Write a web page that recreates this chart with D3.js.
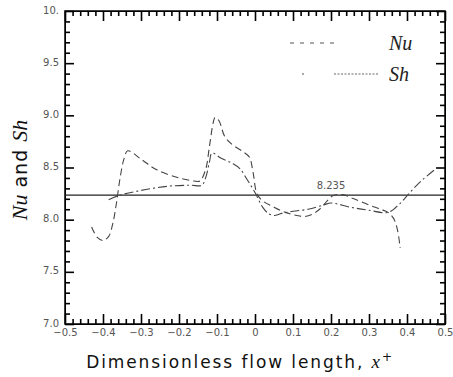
<!DOCTYPE html>
<html><head><meta charset="utf-8">
<script src="https://cdn.jsdelivr.net/npm/d3@7/dist/d3.min.js"></script>
<style>body{margin:0;background:#fff}svg{display:block}</style>
</head><body><svg id="c" width="453" height="377"></svg>
<script>
// Data
const nuX = [-0.43,-0.415,-0.40,-0.385,-0.375,-0.365,-0.355,-0.345,-0.335,-0.30,-0.26,-0.20,-0.16,-0.145,-0.13,-0.12,-0.11,-0.105,-0.095,-0.08,-0.06,-0.035,-0.015,-0.005,0.005,0.02,0.05,0.08,0.11,0.13,0.15,0.17,0.19,0.205,0.23,0.26,0.30,0.33,0.35,0.365,0.375,0.382];
const nuY = [7.93,7.83,7.80,7.84,7.95,8.15,8.40,8.58,8.66,8.58,8.48,8.40,8.37,8.37,8.48,8.70,8.93,8.98,8.95,8.80,8.72,8.66,8.60,8.45,8.25,8.18,8.12,8.07,8.04,8.03,8.05,8.10,8.18,8.23,8.24,8.20,8.14,8.10,8.07,8.01,7.90,7.73];
const shX = [-0.385,-0.36,-0.30,-0.23,-0.17,-0.14,-0.13,-0.12,-0.113,-0.09,-0.06,-0.04,-0.02,0.0,0.02,0.035,0.05,0.07,0.10,0.14,0.18,0.20,0.25,0.30,0.35,0.38,0.41,0.44,0.48];
const shY = [8.19,8.23,8.28,8.32,8.33,8.33,8.40,8.55,8.64,8.59,8.54,8.49,8.38,8.26,8.12,8.06,8.04,8.06,8.08,8.10,8.14,8.16,8.12,8.09,8.07,8.15,8.27,8.38,8.50];
const refValue = 8.235;
const refLabel = "8.235";
const xTicks = [-0.5,-0.4,-0.3,-0.2,-0.1,0,0.1,0.2,0.3,0.4,0.5];
const xTickLabels = ["\u22120.5","\u22120.4","\u22120.3","\u22120.2","\u22120.1","0","0.1","0.2","0.3","0.4","0.5"];
const yTicks = [7.0,7.5,8.0,8.5,9.0,9.5,10.0];
const yTickLabels = ["7.0","7.5","8.0","8.5","9.0","9.5","10."];
const xMinor = [-0.48,-0.46,-0.44,-0.42,-0.38,-0.36,-0.34,-0.32,-0.28,-0.26,-0.24,-0.22,-0.18,-0.16,-0.14,-0.12,-0.08,-0.06,-0.04,-0.02,0.02,0.04,0.06,0.08,0.12,0.14,0.16,0.18,0.22,0.24,0.26,0.28,0.32,0.34,0.36,0.38,0.42,0.44,0.46,0.48];
const yMinor = [7.1,7.2,7.3,7.4,7.6,7.7,7.8,7.9,8.1,8.2,8.3,8.4,8.6,8.7,8.8,8.9,9.1,9.2,9.3,9.4,9.6,9.7,9.8,9.9];

const svg = d3.select("#c");
const L=65,R=445,T=11,B=324;
const x = d3.scaleLinear().domain([-0.5,0.5]).range([L,R]);
const y = d3.scaleLinear().domain([7,10]).range([B,T]);

svg.append("rect").attr("x",L).attr("y",T).attr("width",R-L).attr("height",B-T)
  .attr("fill","none").attr("stroke","#111").attr("stroke-width",1.6);

const tickGroups = [
  [d3.axisBottom(x), xMinor, -5, `translate(0,${B})`],
  [d3.axisBottom(x), xTicks, -10, `translate(0,${B})`],
  [d3.axisTop(x), xMinor, -5, `translate(0,${T})`],
  [d3.axisTop(x), xTicks, -10, `translate(0,${T})`],
  [d3.axisLeft(y), yMinor, -5, `translate(${L},0)`],
  [d3.axisLeft(y), yTicks, -9, `translate(${L},0)`],
  [d3.axisRight(y), yMinor, -5, `translate(${R},0)`],
  [d3.axisRight(y), yTicks, -9, `translate(${R},0)`]
];
tickGroups.forEach(([ax, vals, size, tr])=>{
  const g = svg.append("g").attr("transform",tr)
    .call(ax.tickValues(vals).tickSizeInner(size).tickSizeOuter(0).tickFormat(""));
  g.selectAll(".tick line").attr("stroke","#000").attr("stroke-width",1.6).attr("stroke-opacity",1);
});

// tick labels via d3 axes
const xa = svg.append("g").attr("transform",`translate(0,${B})`)
  .call(d3.axisBottom(x).tickValues(xTicks).tickSize(0).tickPadding(5).tickFormat((d,i)=>xTickLabels[i]));
const ya = svg.append("g").attr("transform",`translate(${L},0)`)
  .call(d3.axisLeft(y).tickValues(yTicks).tickSize(0).tickPadding(6).tickFormat((d,i)=>yTickLabels[i]));
[xa,ya].forEach(a=>{a.selectAll("text").attr("fill","#555").style("font-family","'DejaVu Sans',sans-serif").style("font-size","10px");});
ya.selectAll("text").attr("dy","0.2em");

// reference line
svg.append("line").attr("x1",x(-0.5)).attr("x2",x(0.5)).attr("y1",y(refValue)).attr("y2",y(refValue))
  .attr("stroke","#222").attr("stroke-width",1.3);
svg.append("text").attr("x",x(0.2)).attr("y",y(refValue)-6).attr("text-anchor","middle")
  .attr("fill","#555").style("font-family","'DejaVu Sans',sans-serif").style("font-size","10px").text(refLabel);

const line = d3.line().x(d=>x(d[0])).y(d=>y(d[1])).curve(d3.curveCatmullRom.alpha(0.5));
svg.append("path").datum(nuX.map((v,i)=>[v,nuY[i]])).attr("d",line)
  .attr("fill","none").attr("stroke","#444").attr("stroke-width",1.1).attr("stroke-dasharray","7,4");
svg.append("path").datum(shX.map((v,i)=>[v,shY[i]])).attr("d",line)
  .attr("fill","none").attr("stroke","#444").attr("stroke-width",1.1).attr("stroke-dasharray","9,3,2,3");

// legend
svg.append("line").attr("x1",290).attr("x2",340).attr("y1",43).attr("y2",43)
  .attr("stroke","#555").attr("stroke-width",1).attr("stroke-dasharray","4,6");
svg.append("line").attr("x1",302).attr("x2",304).attr("y1",74).attr("y2",74)
  .attr("stroke","#555").attr("stroke-width",1);
svg.append("line").attr("x1",334).attr("x2",378).attr("y1",74).attr("y2",74)
  .attr("stroke","#666").attr("stroke-width",1).attr("stroke-dasharray","2,1.5");
const lf = "'Liberation Serif','DejaVu Serif',serif";
svg.append("text").attr("x",389).attr("y",50).style("font-family",lf).style("font-style","italic")
  .style("font-size","20px").attr("fill","#222").text("Nu");
svg.append("text").attr("x",389).attr("y",81).style("font-family",lf).style("font-style","italic")
  .style("font-size","20px").attr("fill","#222").text("Sh");

// x title
const xt = svg.append("text").attr("x",240).attr("y",368).attr("text-anchor","middle")
  .style("font-family","'DejaVu Sans',sans-serif").style("font-size","17px").attr("fill","#111")
  .style("letter-spacing","1.9px");
xt.append("tspan").text("Dimensionless  flow  length, ");
xt.append("tspan").style("font-family",lf).style("font-style","italic").style("font-size","19px").text("x");
xt.append("tspan").attr("dy",-7).style("font-size","12px").text("+");

// y title
const yt = svg.append("text").attr("transform","translate(27,170) rotate(-90)").attr("text-anchor","middle")
  .style("font-size","19px").attr("fill","#111");
yt.append("tspan").style("font-family",lf).style("font-style","italic").style("font-size","22px").text("Nu");
yt.append("tspan").style("font-family","'DejaVu Sans',sans-serif").style("letter-spacing","1px").text(" and ");
yt.append("tspan").style("font-family",lf).style("font-style","italic").style("font-size","22px").text("Sh");
</script></body></html>
